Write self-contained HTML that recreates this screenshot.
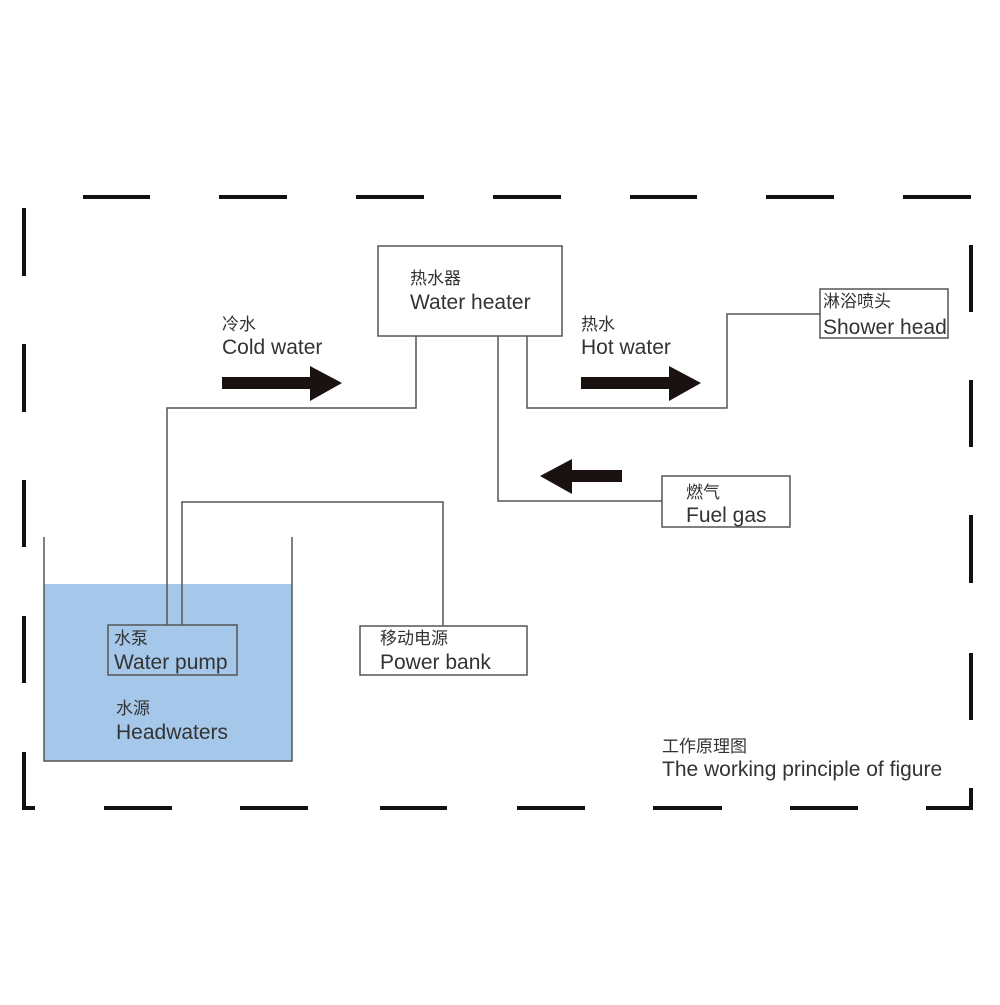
<!DOCTYPE html>
<html><head><meta charset="utf-8"><style>
html,body{margin:0;padding:0;background:#fff;}
svg text{font-family:"Liberation Sans","Noto Sans CJK SC",sans-serif;fill:#333;}
</style></head><body>
<svg width="1000" height="1000" xmlns="http://www.w3.org/2000/svg">
<g stroke="#111" stroke-width="4" fill="none">
<line x1="83" y1="197" x2="150" y2="197"/><line x1="219" y1="197" x2="287" y2="197"/><line x1="356" y1="197" x2="424" y2="197"/><line x1="493" y1="197" x2="561" y2="197"/><line x1="630" y1="197" x2="697" y2="197"/><line x1="766" y1="197" x2="834" y2="197"/><line x1="903" y1="197" x2="971" y2="197"/>
<line x1="24" y1="208" x2="24" y2="276"/><line x1="24" y1="344" x2="24" y2="412"/><line x1="24" y1="480" x2="24" y2="547"/><line x1="24" y1="616" x2="24" y2="683"/>
<polyline points="24,752 24,808 35,808"/>
<line x1="971" y1="245" x2="971" y2="312"/><line x1="971" y1="380" x2="971" y2="447"/><line x1="971" y1="515" x2="971" y2="583"/><line x1="971" y1="653" x2="971" y2="720"/>
<polyline points="926,808 971,808 971,788"/>
<line x1="104" y1="808" x2="172" y2="808"/><line x1="240" y1="808" x2="308" y2="808"/><line x1="380" y1="808" x2="447" y2="808"/><line x1="517" y1="808" x2="585" y2="808"/><line x1="653" y1="808" x2="722" y2="808"/><line x1="790" y1="808" x2="858" y2="808"/>
</g>
<rect x="44" y="584" width="248" height="177" fill="#a5c8ea"/>
<g stroke="#555" stroke-width="1.5" fill="none">
<polyline points="44,537 44,761 292,761 292,537"/>
<rect x="108" y="625" width="129" height="50"/>
<rect x="378" y="246" width="184" height="90" fill="#fff"/>
<rect x="820" y="289" width="128" height="49" fill="#fff"/>
<rect x="662" y="476" width="128" height="51" fill="#fff"/>
<rect x="360" y="626" width="167" height="49" fill="#fff"/>
<polyline points="167,625 167,408 416,408 416,336"/>
<polyline points="182,625 182,502 443,502 443,626"/>
<polyline points="527,336 527,408 727,408 727,314 820,314"/>
<polyline points="498,336 498,501 662,501"/>
</g>
<g fill="#1a1111">
<polygon points="222,377 310,377 310,366 342,383 310,401 310,389 222,389"/>
<polygon points="581,377 669,377 669,366 701,383 669,401 669,389 581,389"/>
<polygon points="622,470 572,470 572,459 540,476 572,494 572,482 622,482"/>
</g>
<g font-size="21">
<text x="410" y="284" font-size="17">热水器</text><text x="410" y="309">Water heater</text>
<text x="222" y="330" font-size="17">冷水</text><text x="222" y="354">Cold water</text>
<text x="581" y="330" font-size="17">热水</text><text x="581" y="354">Hot water</text>
<text x="823" y="307" font-size="17">淋浴喷头</text><text x="823" y="334">Shower head</text>
<text x="686" y="498" font-size="17">燃气</text><text x="686" y="522">Fuel gas</text>
<text x="114" y="644" font-size="17">水泵</text><text x="114" y="669">Water pump</text>
<text x="380" y="644" font-size="17">移动电源</text><text x="380" y="669">Power bank</text>
<text x="116" y="714" font-size="17">水源</text><text x="116" y="739">Headwaters</text>
<text x="662" y="752" font-size="17">工作原理图</text><text x="662" y="776">The working principle of figure</text>
</g>
</svg>
</body></html>
